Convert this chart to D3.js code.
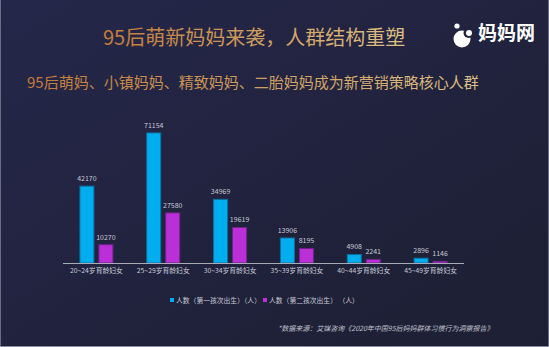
<!DOCTYPE html>
<html><head><meta charset="utf-8">
<script src="https://cdn.jsdelivr.net/npm/d3@7"></script>
<style>
html,body{margin:0;padding:0;background:#20223a;}
svg{display:block;font-family:"Noto Sans CJK SC","Noto Sans",sans-serif;}
</style></head>
<body>
<svg id="c" width="549" height="347"></svg>
<script>
const categories = ["20~24岁育龄妇女","25~29岁育龄妇女","30~34岁育龄妇女","35~39岁育龄妇女","40~44岁育龄妇女","45~49岁育龄妇女"];
const firstBirth = [42170, 71154, 34969, 13906, 4908, 2896];
const secondBirth = [10270, 27580, 19619, 8195, 2241, 1146];
const seriesNames = ["人数（第一孩次出生）（人）","人数（第二孩次出生） （人）"];
const titleText = "95后萌新妈妈来袭，人群结构重塑";
const subtitleText = "95后萌妈、小镇妈妈、精致妈妈、二胎妈妈成为新营销策略核心人群";
const sourceText = "*数据来源：艾媒咨询《2020年中国95后妈妈群体习惯行为洞察报告》";
const logoText = "妈妈网";

const svg = d3.select("#c");
const W = 549, H = 347;
const defs = svg.append("defs");
const bg = defs.append("linearGradient").attr("id","bg").attr("x1","0").attr("y1","0").attr("x2","1").attr("y2","1");
bg.append("stop").attr("offset","0%").attr("stop-color","#25274a");
bg.append("stop").attr("offset","100%").attr("stop-color","#1d1f33");
const gold = defs.append("linearGradient").attr("id","gold").attr("x1","0").attr("y1","0").attr("x2","1").attr("y2","0");
gold.append("stop").attr("offset","0%").attr("stop-color","#c47a36");
gold.append("stop").attr("offset","100%").attr("stop-color","#dcc184");

svg.append("rect").attr("width",W).attr("height",H).attr("fill","url(#bg)");
svg.append("line").attr("x1",0.5).attr("x2",0.5).attr("y1",0).attr("y2",H).attr("stroke","#6a6e84");
svg.append("line").attr("x1",W-0.5).attr("x2",W-0.5).attr("y1",0).attr("y2",H).attr("stroke","#6a6e84");
svg.append("line").attr("x1",0).attr("x2",W).attr("y1",H-0.5).attr("y2",H-0.5).attr("stroke","#8a8ea0");

// titles
svg.append("text").attr("x",103).attr("y",45).attr("font-size",20).attr("fill","url(#gold)").text(titleText);
svg.append("text").attr("x",27).attr("y",87.5).attr("font-size",15).attr("fill","url(#gold)").text(subtitleText);

// logo
const lg = svg.append("g");
lg.append("circle").attr("cx",462).attr("cy",39).attr("r",8.5).attr("fill","#fff");
lg.append("circle").attr("cx",468.5).attr("cy",33).attr("r",5).attr("fill","#22253f");
lg.append("circle").attr("cx",469).attr("cy",33).attr("r",3).attr("fill","#fff");
lg.append("circle").attr("cx",457).attr("cy",26).attr("r",2.6).attr("fill","#fff");
lg.append("text").attr("x",478).attr("y",40).attr("font-size",19).attr("font-weight","bold").attr("fill","#fff").text(logoText);

// scales
const x0 = d3.scaleBand().domain(categories).range([63,464]).padding(0);
const y = d3.scaleLinear().domain([0,80000]).range([263,116.2]);
const barW = 15, gap = 4;
const colors = ["#00aeef","#bb2fd9"];
const strokes = ["#0a6f9f","#6f2488"];
const series = [firstBirth, secondBirth];

series.forEach((vals, si) => {
  const g = svg.append("g");
  const off = si === 0 ? -(barW + gap/2) : gap/2;
  g.selectAll("rect").data(vals).join("rect")
    .attr("x", (d,i) => x0(categories[i]) + x0.bandwidth()/2 + off + 0.5)
    .attr("y", d => y(d) + 0.5)
    .attr("width", barW - 1)
    .attr("height", d => y(0) - y(d) - 0.5)
    .attr("fill", colors[si]).attr("stroke", strokes[si]).attr("stroke-width",1);
  g.selectAll("text").data(vals).join("text")
    .attr("x", (d,i) => x0(categories[i]) + x0.bandwidth()/2 + off + barW/2)
    .attr("y", d => y(d) - 4.5)
    .attr("text-anchor","middle").attr("font-size",7).attr("fill","#c8cad6")
    .text(d => d);
});

// x axis
const xAxis = d3.axisBottom(x0).tickSize(0).tickPadding(5);
const ax = svg.append("g").attr("transform","translate(0,263.5)").call(xAxis);
ax.select(".domain").attr("stroke","#a8aab4").attr("d","M63,0H464");
ax.selectAll("text").attr("font-size",6.8).attr("fill","#c8cad6").attr("font-family","'Noto Sans CJK SC',sans-serif");

// legend
const legX = [170, 263];
seriesNames.forEach((n,i) => {
  svg.append("rect").attr("x",legX[i]).attr("y",298).attr("width",4).attr("height",4).attr("fill",colors[i]);
  svg.append("text").attr("x",legX[i]+6).attr("y",302.5).attr("font-size",6.8).attr("fill","#c8cad6").text(n);
});

// source
svg.append("text").attr("x",278).attr("y",330.5).attr("font-size",7).attr("font-style","italic")
  .attr("fill","#c0c2ce").text(sourceText);
</script>
</body></html>
